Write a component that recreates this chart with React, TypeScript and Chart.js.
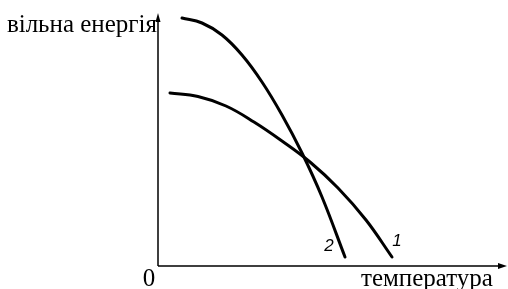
import React, { useEffect, useRef } from "react";
import { Chart, registerables } from "chart.js";

Chart.register(...registerables);

// Curve 1: (temperature, free energy)
const curve1X = [12, 40, 68, 96, 124, 152, 180, 208, 234];
const curve1Y = [173, 169.5, 160, 144, 125, 104, 78, 46, 9];
// Curve 2
const curve2X = [24, 44, 64, 84, 104, 124, 144, 164, 187];
const curve2Y = [248, 243, 231, 211, 184, 151, 113, 69, 9];

const curveLabels = ["1", "2"];
const yAxisLabel = "вільна енергія";
const xAxisLabel = "температура";
const originLabel = "0";

const X_MAX = 349;
const Y_MAX = 253;

const toPoints = (xs: number[], ys: number[]) => xs.map((x, i) => ({ x, y: ys[i] }));

const axesPlugin = {
  id: "axesPlugin",
  afterDraw(chart: any) {
    const { ctx, chartArea } = chart;
    const { left, right, top, bottom } = chartArea;
    ctx.save();
    ctx.strokeStyle = "#000";
    ctx.fillStyle = "#000";
    ctx.lineWidth = 1.5;
    ctx.beginPath();
    ctx.moveTo(left, bottom);
    ctx.lineTo(left, top + 4);
    ctx.moveTo(left, bottom);
    ctx.lineTo(right - 6, bottom);
    ctx.stroke();
    // y arrow
    ctx.beginPath();
    ctx.moveTo(left, top);
    ctx.lineTo(left - 2.5, top + 9);
    ctx.lineTo(left + 2.5, top + 9);
    ctx.closePath();
    ctx.fill();
    // x arrow
    ctx.beginPath();
    ctx.moveTo(right, bottom);
    ctx.lineTo(right - 9, bottom - 3);
    ctx.lineTo(right - 9, bottom + 3);
    ctx.closePath();
    ctx.fill();

    ctx.font = '25px "Liberation Serif"';
    ctx.textBaseline = "alphabetic";
    ctx.textAlign = "right";
    ctx.fillText(yAxisLabel, left - 1, top + 19);
    ctx.textAlign = "center";
    ctx.fillText(originLabel, left - 9, bottom + 20);
    ctx.textAlign = "left";
    ctx.fillText(xAxisLabel, left + 203, bottom + 20);

    // curve labels near the end of each curve
    ctx.font = 'italic 17px "Liberation Sans"';
    ctx.textAlign = "center";
    ctx.textBaseline = "middle";
    const xs = chart.scales.x;
    const ys = chart.scales.y;
    const ends = [
      { x: curve1X[curve1X.length - 1], y: curve1Y[curve1Y.length - 1], dx: 5, dy: -16 },
      { x: curve2X[curve2X.length - 1], y: curve2Y[curve2Y.length - 1], dx: -16, dy: -11 },
    ];
    ends.forEach((e, i) => {
      ctx.fillText(curveLabels[i], xs.getPixelForValue(e.x) + e.dx, ys.getPixelForValue(e.y) + e.dy);
    });
    ctx.restore();
  },
};

export default function App() {
  const ref = useRef<HTMLCanvasElement>(null);
  useEffect(() => {
    if (!ref.current) return;
    const common = {
      borderColor: "#000",
      borderWidth: 3,
      pointRadius: 0,
      tension: 0.4,
      borderCapStyle: "round",
    };
    const chart = new Chart(ref.current, {
      type: "line",
      data: {
        datasets: [
          { data: toPoints(curve1X, curve1Y), ...common },
          { data: toPoints(curve2X, curve2Y), ...common },
        ],
      },
      options: {
        animation: false,
        responsive: false,
        maintainAspectRatio: false,
        layout: { padding: { left: 158, right: 1, top: 13, bottom: 23 } },
        plugins: { legend: { display: false }, tooltip: { enabled: false } },
        scales: {
          x: { type: "linear", min: 0, max: X_MAX, display: false },
          y: { type: "linear", min: 0, max: Y_MAX, display: false },
        },
      },
      plugins: [axesPlugin],
    } as any);
    return () => chart.destroy();
  }, []);
  return (
    <div style={{ position: "fixed", left: 0, top: 0, width: 508, height: 289, background: "#fff" }}>
      <canvas ref={ref} width={508} height={289} style={{ display: "block" }} />
    </div>
  );
}
